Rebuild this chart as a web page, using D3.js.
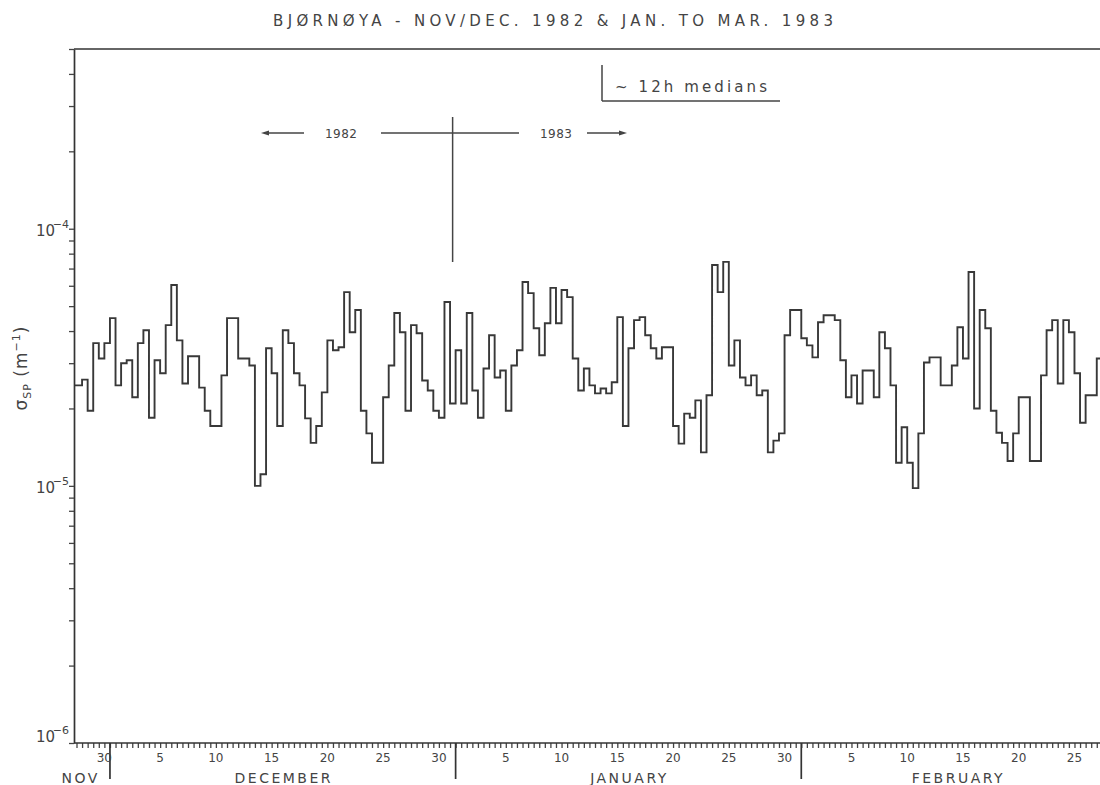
<!DOCTYPE html>
<html>
<head>
<meta charset="utf-8">
<script src="https://cdn.jsdelivr.net/npm/d3@7"></script>
<style>
  body { margin: 0; background: #fff; }
  text { font-family: "DejaVu Sans", sans-serif; fill: #444; }
</style>
</head>
<body>
<svg id="chart" width="1100" height="785"></svg>
<script>
// chart texts
const title = "BJØRNØYA  - NOV/DEC. 1982 & JAN. TO MAR. 1983";
const legendText = "~ 12h medians";

// 12h medians of sigma_SP, in units of 1e-5 m^-1, first value starts 27 Nov 1982 12:00
const seriesStart = "1982-11-27T12:00";
const stepHours = 12;
const sigmaSP = [
  2.46, 2.46, 2.59, 1.96, 3.59, 3.13, 3.59, 4.49, 2.46, 3.00,
  3.08, 2.21, 3.59, 4.03, 1.84, 3.08, 2.74, 4.22, 6.04, 3.68,
  2.50, 3.19, 3.19, 2.41, 1.96, 1.71, 1.71, 2.69, 4.49, 4.49,
  3.13, 3.13, 2.94, 1.00, 1.11, 3.43, 2.74, 1.71, 4.03, 3.59,
  2.74, 2.46, 1.83, 1.47, 1.71, 2.31, 3.68, 3.37, 3.46, 5.67,
  3.96, 4.83, 1.96, 1.60, 1.23, 1.23, 2.21, 2.94, 4.70, 3.96,
  1.96, 4.22, 3.92, 2.57, 2.35, 1.96, 1.84, 5.19, 2.09, 3.37,
  2.09, 4.70, 2.35, 1.84, 2.86, 3.85, 2.64, 2.81, 1.96, 2.94,
  3.37, 6.21, 5.62, 4.10, 3.22, 4.29, 5.89, 4.29, 5.78, 5.42,
  3.13, 2.35, 2.86, 2.46, 2.29, 2.39, 2.29, 2.53, 4.53, 1.71,
  3.43, 4.41, 4.53, 3.85, 3.43, 3.13, 3.46, 3.46, 1.71, 1.46,
  1.91, 1.84, 2.15, 1.35, 2.25, 7.23, 5.67, 7.43, 2.94, 3.68,
  2.64, 2.46, 2.69, 2.25, 2.35, 1.35, 1.50, 1.60, 3.85, 4.83,
  4.83, 3.75, 3.52, 3.16, 4.33, 4.61, 4.61, 4.41, 3.08, 2.21,
  2.69, 2.09, 2.81, 2.81, 2.21, 3.96, 3.43, 2.46, 1.23, 1.69,
  1.23, 0.98, 1.60, 3.02, 3.16, 3.16, 2.46, 2.46, 2.94, 4.14,
  3.13, 6.79, 2.00, 4.83, 4.10, 1.96, 1.61, 1.47, 1.25, 1.60,
  2.21, 2.21, 1.25, 1.25, 2.69, 4.03, 4.41, 2.50, 4.41, 3.96,
  2.74, 1.76, 2.25, 2.25, 3.13, 3.13
];

// axis labels
const dayTicks = ["1982-11-30", "1982-12-05", "1982-12-10", "1982-12-15", "1982-12-20", "1982-12-25", "1982-12-30",
  "1983-01-05", "1983-01-10", "1983-01-15", "1983-01-20", "1983-01-25", "1983-01-30",
  "1983-02-05", "1983-02-10", "1983-02-15", "1983-02-20", "1983-02-25"];
const monthStarts = ["1982-12-01", "1983-01-01", "1983-02-01", "1983-03-01"];
const monthNames = ["NOV", "DECEMBER", "JANUARY", "FEBRUARY"];
const decades = [1e-6, 1e-5, 1e-4];
const yearNames = ["1982", "1983"];

const parseDay = d3.utcParse("%Y-%m-%d");
const parseHour = d3.utcParse("%Y-%m-%dT%H:%M");

const plotLeft = 74, plotTop = 49, plotBottom = 743, plotRight = 1100;

const svg = d3.select("#chart");

// scales
const x = d3.scaleUtc()
  .domain([parseDay("1982-11-28"), parseDay("1983-03-01")])
  .range([76.5, 1113.5]);
const y = d3.scaleLog()
  .domain([1e-6, 5e-4])
  .range([plotBottom, plotTop]);

// title
svg.append("text")
  .attr("x", 553).attr("y", 26)
  .attr("text-anchor", "middle")
  .attr("font-size", 15)
  .attr("textLength", 560).attr("lengthAdjust", "spacing")
  .text(title);

// data series
const t0 = parseHour(seriesStart);
const data = sigmaSP.map((v, i) => ({ t: d3.utcHour.offset(t0, i * stepHours), v: v * 1e-5 }));
data.push({ t: d3.utcHour.offset(t0, sigmaSP.length * stepHours), v: data[data.length - 1].v });

svg.append("clipPath").attr("id", "plotclip")
  .append("rect")
  .attr("x", plotLeft).attr("y", plotTop)
  .attr("width", plotRight - plotLeft).attr("height", plotBottom - plotTop);

const line = d3.line()
  .x(d => x(d.t))
  .y(d => y(d.v))
  .curve(d3.curveStepAfter);

svg.append("path")
  .datum(data)
  .attr("clip-path", "url(#plotclip)")
  .attr("fill", "none")
  .attr("stroke", "#383838")
  .attr("stroke-width", 1.9)
  .attr("d", line);

// y axis (log, minor ticks 1..9 per decade)
const yTicks = [];
d3.range(-6, -3).forEach(e => {
  d3.range(1, 10).forEach(m => {
    const v = m * Math.pow(10, e);
    if (v <= 5e-4) yTicks.push(v);
  });
});

const yAxis = svg.append("g")
  .attr("transform", `translate(${plotLeft},0)`)
  .call(d3.axisLeft(y).tickValues(yTicks).tickSize(5).tickSizeOuter(0).tickFormat(""));
yAxis.select(".domain").attr("stroke", "#333").attr("stroke-width", 1.7);
yAxis.selectAll(".tick line").attr("stroke", "#444").attr("stroke-width", 1.3);

const decLabels = svg.append("g").selectAll("text")
  .data(decades)
  .join("text")
  .attr("x", 55).attr("y", d => Math.min(y(d) + 7, plotBottom - 1))
  .attr("text-anchor", "end")
  .attr("font-size", 15);
decLabels.append("tspan").text("10");
decLabels.append("tspan")
  .attr("x", 69).attr("dy", -8)
  .attr("text-anchor", "end")
  .attr("font-size", 11)
  .text(d => "\u2212" + (-Math.round(Math.log10(d))));

// top frame line
svg.append("line")
  .attr("x1", plotLeft).attr("x2", plotRight)
  .attr("y1", plotTop).attr("y2", plotTop)
  .attr("stroke", "#333").attr("stroke-width", 1.7);

// x axis, ticks every 12h
const xAxis = svg.append("g")
  .attr("transform", `translate(0,${plotBottom})`)
  .call(d3.axisBottom(x)
    .tickValues(d3.utcHour.every(12).range(x.invert(plotLeft + 2), x.invert(plotRight)))
    .tickSize(5).tickSizeOuter(0).tickFormat(""));
xAxis.select(".domain").remove();
xAxis.selectAll(".tick line").attr("stroke", "#444").attr("stroke-width", 1.3);
svg.append("line")
  .attr("x1", plotLeft).attr("x2", plotRight)
  .attr("y1", plotBottom).attr("y2", plotBottom)
  .attr("stroke", "#333").attr("stroke-width", 1.7);

// month boundaries
svg.append("g").selectAll("line")
  .data(monthStarts.slice(0, 3).map(parseDay))
  .join("line")
  .attr("x1", d => x(d)).attr("x2", d => x(d))
  .attr("y1", plotBottom).attr("y2", plotBottom + 36)
  .attr("stroke", "#333").attr("stroke-width", 1.7);

// day labels at day centres
svg.append("g").selectAll("text")
  .data(dayTicks.map(parseDay))
  .join("text")
  .attr("x", d => x(d3.utcHour.offset(d, 12)))
  .attr("y", plotBottom + 19)
  .attr("text-anchor", "middle")
  .attr("font-size", 12)
  .text(d3.utcFormat("%-d"));

// month names
const monthBounds = monthStarts.map(parseDay);
svg.append("g").selectAll("text")
  .data(monthNames)
  .join("text")
  .attr("x", (d, i) => i === 0 ? x(monthBounds[0]) - 10 : (x(monthBounds[i - 1]) + x(monthBounds[i])) / 2 + 1)
  .attr("y", plotBottom + 40)
  .attr("text-anchor", (d, i) => i === 0 ? "end" : "middle")
  .attr("font-size", 14)
  .attr("letter-spacing", 2.5)
  .text(d => d);

// y axis title
const yTitle = svg.append("text")
  .attr("transform", "translate(27,368) rotate(-90)")
  .attr("text-anchor", "middle")
  .attr("font-size", 17)
  .attr("letter-spacing", 1);
yTitle.append("tspan").text("σ");
yTitle.append("tspan").attr("font-size", 11).attr("dy", 4).text("SP");
yTitle.append("tspan").attr("dy", -4).text(" (m");
yTitle.append("tspan").attr("font-size", 11).attr("dy", -7).text("−1");
yTitle.append("tspan").attr("dy", 7).text(")");

// year divider annotation
const yearX = x(parseDay("1983-01-01")) - 3;
const ann = svg.append("g").attr("stroke", "#444").attr("stroke-width", 1.5);
ann.append("line").attr("x1", yearX).attr("x2", yearX).attr("y1", 117).attr("y2", 262);
ann.append("line").attr("x1", 381).attr("x2", 519).attr("y1", 133).attr("y2", 133);
ann.append("line").attr("x1", 266).attr("x2", 304).attr("y1", 133).attr("y2", 133);
ann.append("line").attr("x1", 587).attr("x2", 622).attr("y1", 133).attr("y2", 133);
svg.append("path").attr("d", "M261,133 L269,130.5 L269,135.5 Z").attr("fill", "#444");
svg.append("path").attr("d", "M627,133 L619,130.5 L619,135.5 Z").attr("fill", "#444");
svg.selectAll(".yearlbl")
  .data(yearNames)
  .join("text")
  .attr("class", "yearlbl")
  .attr("x", (d, i) => i === 0 ? 341 : 556)
  .attr("y", 138)
  .attr("text-anchor", "middle")
  .attr("font-size", 12)
  .attr("textLength", 32).attr("lengthAdjust", "spacing")
  .text(d => d);

// legend
const leg = svg.append("g").attr("stroke", "#444").attr("stroke-width", 1.5);
leg.append("line").attr("x1", 602).attr("x2", 602).attr("y1", 65).attr("y2", 101);
leg.append("line").attr("x1", 602).attr("x2", 780).attr("y1", 101).attr("y2", 101);
svg.append("text")
  .attr("x", 615).attr("y", 92)
  .attr("font-size", 15)
  .attr("textLength", 152).attr("lengthAdjust", "spacing")
  .text(legendText);
</script>
</body>
</html>
